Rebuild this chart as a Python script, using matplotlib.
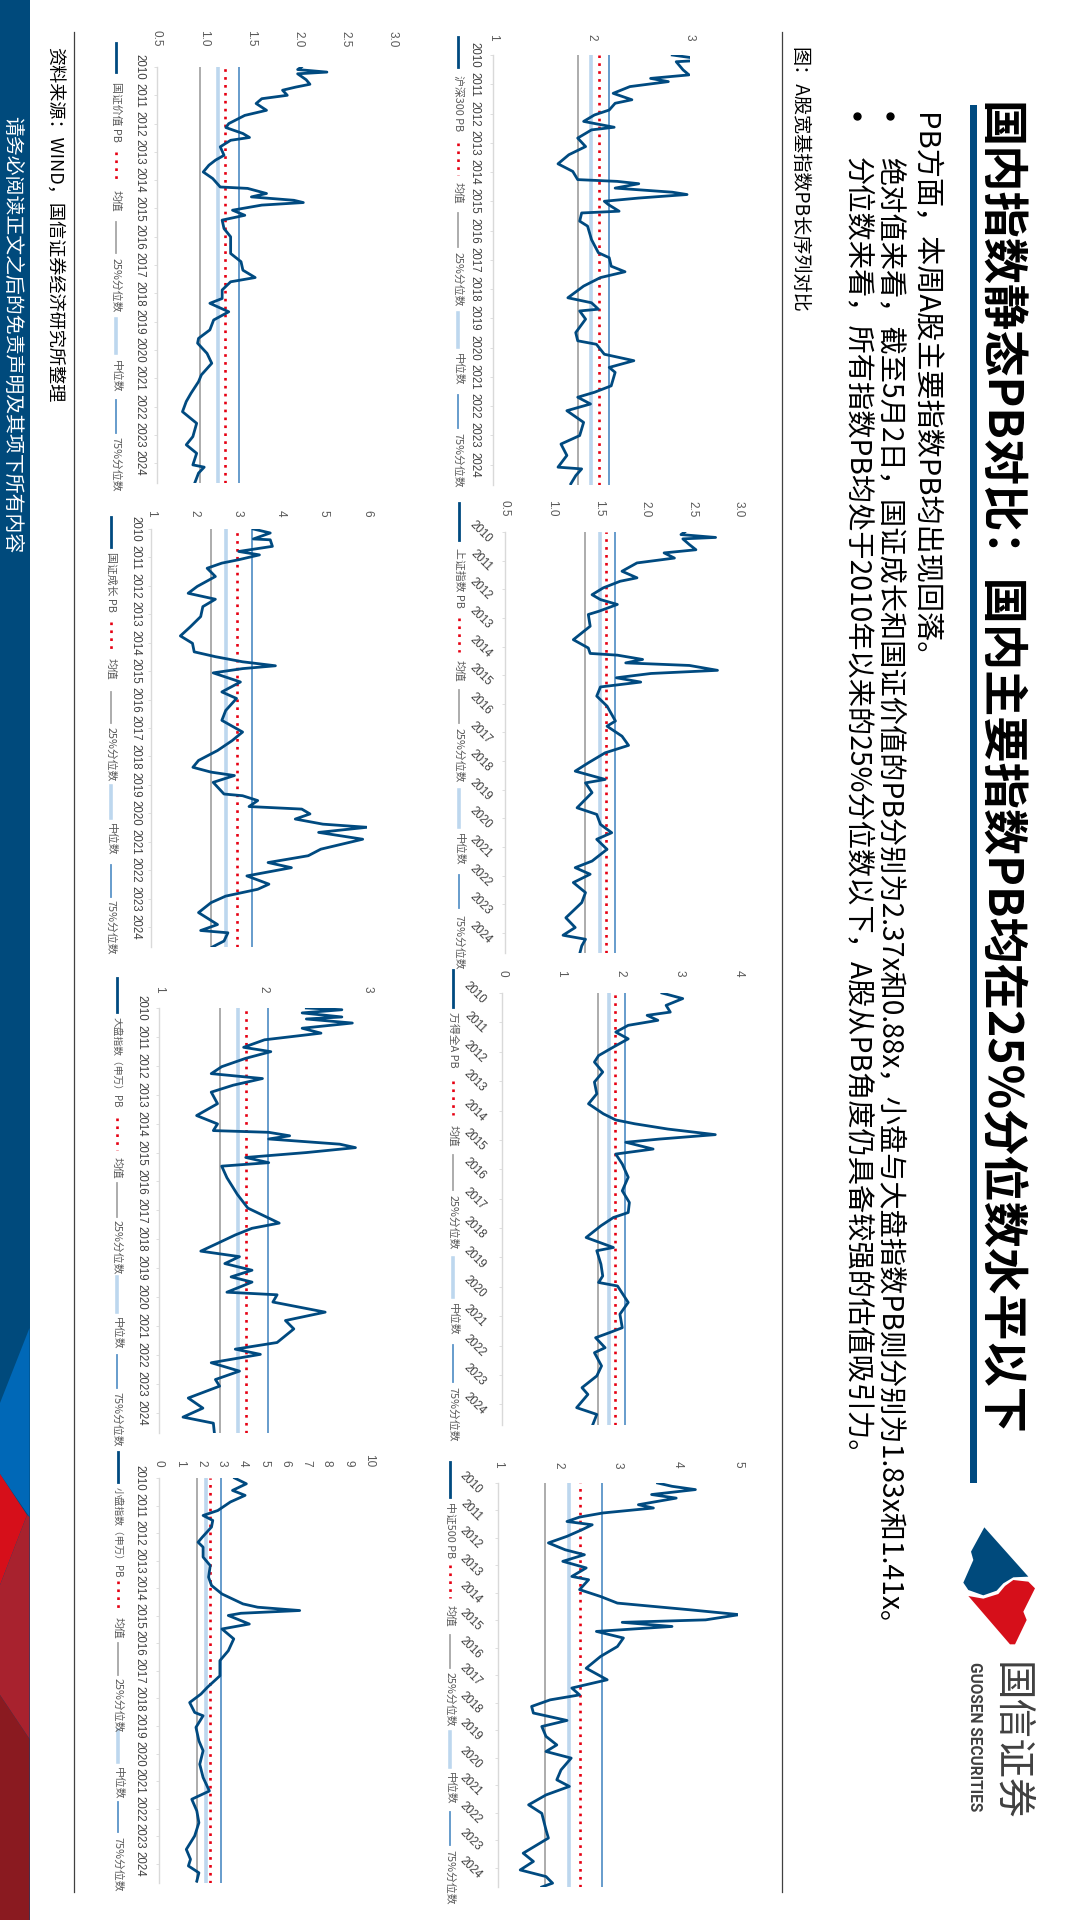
import numpy as np
import matplotlib
matplotlib.use('Agg')
import matplotlib.pyplot as plt
from matplotlib.patches import Polygon, Rectangle

plt.rcParams['font.family'] = ['Noto Sans CJK SC', 'DejaVu Sans']

# PB series: years since 2010 and PB value
hs300_t = [0, .17, .23, .51, .68, .8, .91, 1.08, 1.31, 1.53, 1.65, 1.88, 2.05, 2.27, 2.47, 2.56, 2.84, 3.13, 3.41, 3.72, 3.98, 4.26, 4.32, 4.4, 4.55, 4.69, 4.77, 4.89, 5.0, 5.11, 5.34, 5.4, 5.68, 5.85, 6.31, 6.76, 6.93, 7.22, 7.41, 7.61, 7.9, 8.3, 8.47, 8.69, 8.75, 9.03, 9.49, 9.77, 9.89, 10.23, 10.45, 10.68, 10.85, 11.31, 11.53, 11.7, 11.93, 12.16, 12.56, 13.01, 13.3, 13.69, 14.09, 14.15, 14.38, 14.66]
hs300_v = [2.82, 3.18, 2.86, 2.93, 2.99, 2.6, 2.78, 2.39, 2.22, 2.41, 2.24, 2.18, 2.03, 1.92, 2.23, 2.0, 1.86, 1.94, 1.77, 1.66, 1.81, 1.86, 2.26, 2.48, 2.24, 2.82, 2.97, 2.48, 2.13, 2.17, 2.28, 1.9, 1.88, 1.96, 2.0, 2.07, 2.18, 2.2, 2.34, 2.09, 1.92, 1.76, 2.0, 2.07, 1.88, 1.94, 1.84, 1.86, 2.05, 2.13, 2.43, 2.18, 2.24, 2.2, 2.03, 1.86, 1.99, 1.75, 1.92, 1.88, 1.69, 1.75, 1.66, 1.9, 1.84, 1.79]
value_t = [0, .09, .18, .24, .45, .61, .71, .82, 1.0, 1.12, 1.29, 1.53, 1.71, 2.0, 2.14, 2.35, 2.49, 2.59, 2.82, 3.12, 3.29, 3.47, 3.71, 3.94, 4.24, 4.29, 4.47, 4.59, 4.71, 4.79, 4.88, 5.06, 5.24, 5.41, 5.71, 6.0, 6.24, 6.59, 6.88, 7.18, 7.44, 7.59, 7.88, 8.18, 8.35, 8.65, 8.94, 9.29, 9.59, 9.76, 10.12, 10.47, 10.88, 11.12, 11.53, 11.82, 12.18, 12.59, 13.06, 13.35, 13.65, 14.06, 14.14, 14.35, 14.7]
value_v = [2.03, 1.99, 2.3, 1.99, 2.08, 2.12, 1.97, 1.83, 1.88, 1.61, 1.55, 1.66, 1.43, 1.26, 1.23, 1.41, 1.48, 1.28, 1.17, 1.21, 1.12, 1.05, .99, 1.09, 1.17, 1.46, 1.66, 1.5, 1.95, 2.05, 1.61, 1.3, 1.43, 1.19, 1.21, 1.28, 1.28, 1.28, 1.39, 1.41, 1.54, 1.28, 1.19, 1.19, 1.06, 1.26, 1.1, 1.06, .94, .93, 1.03, 1.08, .97, .94, .86, .81, .77, .92, .88, .81, .92, .88, 1.0, .94, .9]
sse_t = [0, .09, .19, .24, .44, .62, .73, .91, 1.08, 1.37, 1.6, 1.72, 1.95, 2.19, 2.36, 2.53, 2.77, 2.88, 3.29, 3.76, 4.05, 4.24, 4.3, 4.45, 4.57, 4.66, 4.83, 4.94, 5.09, 5.24, 5.41, 5.73, 6.08, 6.6, 6.78, 7.13, 7.45, 7.71, 8.06, 8.35, 8.64, 8.76, 9.1, 9.63, 9.86, 10.21, 10.5, 10.73, 11.08, 11.49, 11.72, 11.95, 12.24, 12.59, 12.94, 13.47, 13.81, 14.08, 14.22, 14.45, 14.7]
sse_v = [2.42, 2.38, 2.75, 2.4, 2.47, 2.54, 2.2, 2.31, 1.91, 1.75, 1.91, 1.73, 1.55, 1.43, 1.52, 1.7, 1.5, 1.39, 1.41, 1.23, 1.39, 1.41, 1.7, 1.97, 1.79, 2.47, 2.77, 2.06, 1.69, 1.95, 1.52, 1.48, 1.59, 1.68, 1.59, 1.75, 1.82, 1.57, 1.39, 1.25, 1.57, 1.36, 1.43, 1.27, 1.48, 1.52, 1.64, 1.48, 1.59, 1.43, 1.25, 1.41, 1.23, 1.36, 1.32, 1.15, 1.25, 1.12, 1.36, 1.32, 1.3]
growth_t = [0, .14, .35, .38, .61, .79, .91, 1.08, 1.2, 1.38, 1.67, 2.02, 2.26, 2.47, 2.73, 3.08, 3.44, 3.76, 4.02, 4.32, 4.49, 4.67, 4.81, 4.91, 5.06, 5.38, 5.73, 5.96, 6.38, 6.73, 7.14, 7.44, 7.79, 8.14, 8.38, 8.55, 8.67, 8.91, 9.32, 9.38, 9.55, 9.76, 9.85, 10.02, 10.2, 10.38, 10.49, 10.67, 10.91, 11.26, 11.49, 11.73, 11.91, 12.2, 12.49, 12.67, 12.91, 13.14, 13.49, 13.91, 14.12, 14.2, 14.49, 14.7]
growth_v = [3.37, 3.76, 3.37, 3.76, 3.81, 3.03, 3.51, 3.03, 2.64, 2.3, 2.49, 2.07, 1.86, 2.49, 2.2, 2.15, 1.91, 1.68, 1.96, 2.0, 2.49, 3.12, 3.88, 3.12, 2.44, 3.07, 2.64, 2.98, 2.73, 2.64, 3.12, 2.88, 2.54, 2.1, 1.97, 2.39, 2.93, 2.44, 2.69, 3.12, 3.47, 3.27, 4.49, 4.68, 4.34, 4.98, 6.0, 4.88, 5.9, 4.93, 4.64, 3.71, 4.25, 3.22, 3.73, 3.47, 2.73, 2.39, 2.1, 2.54, 2.15, 2.78, 2.69, 2.42]
wind_t = [0, .19, .42, .65, .76, .93, 1.1, 1.33, 1.56, 1.84, 2.13, 2.35, 2.69, 3.03, 3.43, 3.77, 4.11, 4.32, 4.45, 4.63, 4.82, 4.97, 5.08, 5.31, 5.48, 5.82, 6.27, 6.73, 7.13, 7.47, 7.64, 7.92, 8.32, 8.66, 8.77, 9.23, 9.63, 9.85, 9.97, 10.53, 10.93, 11.39, 11.56, 11.73, 12.07, 12.24, 12.69, 13.03, 13.43, 13.66, 14.11, 14.34, 14.7]
wind_v = [2.7, 3.05, 2.77, 2.84, 2.45, 2.63, 2.13, 1.92, 2.13, 1.88, 1.63, 1.56, 1.7, 1.56, 1.6, 1.46, 1.71, 1.92, 2.24, 2.8, 3.6, 2.66, 2.09, 2.55, 1.92, 2.03, 2.13, 2.03, 2.15, 2.13, 1.88, 1.67, 1.42, 1.88, 1.6, 1.67, 1.7, 1.63, 1.95, 2.13, 1.99, 2.03, 1.81, 1.58, 1.74, 1.56, 1.68, 1.6, 1.35, 1.45, 1.26, 1.6, 1.53]
large_t = [0, .06, .17, .31, .38, .52, .7, .87, 1.1, 1.36, 1.51, 1.74, 2.03, 2.27, 2.44, 2.67, 2.91, 3.31, 3.72, 4.01, 4.24, 4.3, 4.42, 4.53, 4.71, 4.83, 5.0, 5.17, 5.35, 5.47, 5.87, 6.45, 6.92, 7.44, 7.62, 7.85, 8.14, 8.41, 8.6, 8.84, 9.07, 9.3, 9.48, 9.83, 9.92, 10.17, 10.52, 10.81, 11.1, 11.57, 11.8, 11.98, 12.27, 12.56, 12.85, 13.08, 13.49, 13.84, 14.15, 14.36, 14.7]
large_v = [2.41, 2.75, 2.37, 2.75, 2.41, 2.85, 2.37, 2.55, 2.01, 1.81, 2.07, 1.83, 1.6, 1.5, 1.99, 1.71, 1.5, 1.56, 1.36, 1.56, 1.52, 2.05, 2.25, 2.05, 2.73, 2.88, 2.41, 1.83, 2.05, 1.6, 1.65, 1.75, 1.85, 2.15, 1.89, 1.73, 1.56, 1.4, 1.77, 1.63, 1.89, 1.69, 1.89, 1.65, 2.13, 2.09, 2.59, 2.21, 2.29, 2.13, 1.73, 1.97, 1.5, 1.77, 1.54, 1.58, 1.28, 1.42, 1.23, 1.52, 1.53]
csi500_t = [0, .12, .24, .42, .55, .79, .91, 1.09, 1.24, 1.4, 1.52, 1.7, 1.94, 2.18, 2.43, 2.61, 2.85, 3.09, 3.4, 3.52, 3.88, 4.13, 4.37, 4.61, 4.79, 4.98, 5.07, 5.22, 5.4, 5.64, 5.95, 6.31, 6.74, 7.16, 7.46, 7.71, 7.89, 8.13, 8.37, 8.64, 8.86, 9.22, 9.53, 9.77, 10.01, 10.44, 10.8, 11.04, 11.35, 11.71, 12.02, 12.62, 12.92, 13.47, 13.77, 14.08, 14.32, 14.56, 14.7]
csi500_v = [3.66, 3.9, 4.29, 3.56, 3.97, 3.34, 3.59, 2.75, 2.36, 2.15, 2.57, 2.4, 2.15, 1.84, 2.12, 2.44, 2.08, 2.47, 2.23, 2.51, 2.36, 2.71, 2.99, 4.18, 5.02, 4.46, 3.07, 3.9, 2.64, 3.09, 2.99, 2.71, 2.47, 2.82, 2.23, 2.36, 1.87, 1.56, 1.59, 2.15, 1.73, 1.8, 1.98, 1.8, 2.22, 2.05, 1.98, 2.19, 1.8, 1.51, 1.73, 1.8, 1.84, 1.42, 1.59, 1.37, 1.8, 1.91, 1.73]
small_t = [0, .21, .45, .63, .87, 1.18, 1.36, 1.54, 1.78, 2.15, 2.33, 2.51, 2.87, 3.18, 3.6, 3.9, 4.21, 4.57, 4.69, 4.81, 4.91, 4.99, 5.3, 5.48, 5.84, 6.27, 6.63, 7.18, 7.6, 7.84, 8.15, 8.51, 8.63, 9.05, 9.54, 9.9, 10.39, 10.87, 11.36, 11.66, 12.08, 12.51, 12.99, 13.48, 13.84, 14.08, 14.33, 14.63]
small_v = [3.6, 4.16, 3.5, 4.1, 3.4, 2.8, 2.1, 2.56, 2.5, 2.06, 1.86, 2.1, 2.1, 2.44, 2.36, 2.5, 3.0, 4.0, 4.7, 6.7, 3.9, 3.3, 4.3, 3.0, 3.56, 3.3, 2.9, 2.9, 2.3, 2.0, 1.46, 1.7, 2.1, 1.76, 1.9, 2.1, 1.94, 2.1, 2.4, 1.56, 1.8, 1.9, 1.7, 1.3, 1.5, 1.4, 1.9, 1.8]

# 25% quantile, median, mean, 75% quantile
hs300_stats = [1.865, 1.99, 2.08, 2.18]
value_stats = [.96, 1.15, 1.22, 1.37]
sse_stats = [1.35, 1.51, 1.58, 1.68]
growth_stats = [2.4, 2.74, 3.0, 3.33]
wind_stats = [1.62, 1.81, 1.91, 2.08]
large_stats = [1.58, 1.76, 1.83, 2.04]
csi500_stats = [1.79, 2.19, 2.36, 2.73]
small_stats = [1.8, 2.24, 2.44, 2.94]

years = list(range(2010, 2025))
year_end = 2024.7

NAVY = '#004a80'
GREY = '#595959'
CJK = ['Noto Sans CJK SC', 'DejaVu Sans']
LEG = 7.8

# name, t, v, stats, value ticks, fmt, axes box (x0, x1, y0, y1) in px, year rotation,
# value label pad, year label pad, legend starts
panels = [
    ('沪深300 PB', hs300_t, hs300_v, hs300_stats, [1, 2, 3], '%d', (493, 690, 55, 485), 0, 14, 10,
     (37, 67, 75, 143, 175, 182, 213, 247, 252, 313, 347, 353, 395, 428, 433)),
    ('国证价值 PB', value_t, value_v, value_stats, [.5, 1, 1.5, 2, 2.5, 3], '%.1f', (157, 393, 67, 483), 0, 20, 9,
     (43, 72, 82, 152, 183, 190, 222, 253, 258, 319, 353, 360, 400, 433, 437)),
    ('上证指数 PB', sse_t, sse_v, sse_stats, [.5, 1, 1.5, 2, 2.5, 3], '%.1f', (505, 739, 532, 953), -45, 15, 8,
     (503, 540, 548, 618, 652, 660, 690, 723, 728, 790, 827, 833, 875, 908, 915)),
    ('国证成长 PB', growth_t, growth_v, growth_stats, [1, 2, 3, 4, 5, 6], '%d', (151, 367, 529, 947), 0, 12, 7,
     (517, 547, 552, 622, 650, 658, 692, 723, 727, 786, 818, 823, 865, 897, 900)),
    ('万得全A PB', wind_t, wind_v, wind_stats, [0, 1, 2, 3, 4], '%d', (502, 739, 993, 1425), -45, 16, 11,
     (970, 1007, 1012, 1081, 1115, 1125, 1155, 1190, 1195, 1258, 1297, 1303, 1345, 1382, 1387)),
    ('大盘指数（申万）PB', large_t, large_v, large_stats, [1, 2, 3], '%d', (159, 368, 1008, 1433), 0, 15, 9,
     (978, 1012, 1017, 1118, 1150, 1157, 1183, 1217, 1220, 1277, 1312, 1317, 1355, 1388, 1392)),
    ('中证500 PB', csi500_t, csi500_v, csi500_stats, [1, 2, 3, 4, 5], '%d', (498, 738, 1483, 1887), -45, 15, 11,
     (1462, 1497, 1502, 1565, 1598, 1605, 1635, 1668, 1672, 1732, 1767, 1772, 1812, 1845, 1850)),
    ('小盘指数（申万）PB', small_t, small_v, small_stats, [0, 1, 2, 3, 4, 5, 6, 7, 8, 9, 10], '%d', (159, 369, 1478, 1883), 0, 11, 11,
     (1452, 1482, 1487, 1581, 1610, 1617, 1643, 1675, 1678, 1730, 1762, 1767, 1802, 1832, 1837)),
]
legend_x = [458, 116, 459, 111, 453, 117, 450, 118]

fig = plt.figure(figsize=(10.8, 19.2), dpi=100, facecolor='white')

# page background drawn in pixel coordinates
bg = fig.add_axes([0, 0, 1, 1])
bg.set_xlim(0, 1080)
bg.set_ylim(1920, 0)
bg.axis('off')

# left colour band
bg.add_patch(Rectangle((0, 0), 29.5, 1920, color='#004a7c', lw=0))
bg.add_patch(Polygon([(29.5, 1328), (0, 1403), (0, 1474), (29.5, 1517)], color='#0068b7', lw=0))
bg.add_patch(Polygon([(0, 1474), (27, 1515), (0, 1585)], color='#d60f1a', lw=0))
bg.add_patch(Polygon([(29.5, 1517), (27, 1515), (0, 1585), (0, 1695), (29.5, 1739)], color='#a8222e', lw=0))
bg.add_patch(Polygon([(0, 1695), (29.5, 1739), (29.5, 1920), (0, 1920)], color='#8a1a20', lw=0))
bg.text(12, 116, '请务必阅读正文之后的免责声明及其项下所有内容', color='white', fontsize=14.3,
        rotation=-90, ha='center', va='top', family=CJK)

# header
bg.text(998, 102, '国内指数静态PB对比：国内主要指数PB均在25%分位数水平以下', fontsize=33.3, weight='bold',
        color='black', rotation=-90, ha='center', va='top', family=CJK)
bg.add_patch(Rectangle((970, 105), 6.5, 1378, color=NAVY, lw=0))
bg.text(924, 113, 'PB方面，本周A股主要指数PB均出现回落。', fontsize=21, rotation=-90, ha='center', va='top', family=CJK)
bg.text(890, 157, '绝对值来看，截至5月2日，国证成长和国证价值的PB分别为2.37x和0.88x，小盘与大盘指数PB则分别为1.83x和1.41x。',
        fontsize=20.3, rotation=-90, ha='center', va='top', family=CJK)
bg.text(857, 157, '分位数来看，所有指数PB均处于2010年以来的25%分位数以下，A股从PB角度仍具备较强的估值吸引力。',
        fontsize=20.3, rotation=-90, ha='center', va='top', family=CJK)
bg.plot([890, 857], [116, 116], 'o', color='black', ms=5)
bg.text(799, 47, '图：A股宽基指数PB长序列对比', fontsize=13.8, rotation=-90, ha='center', va='top', family=CJK)
bg.plot([782, 782], [32, 1892], color='#404040', lw=0.9)
bg.plot([74, 74], [32, 1892], color='#404040', lw=0.9)
bg.text(54, 47, '资料来源：WIND，国信证券经济研究所整理', fontsize=13.1, rotation=-90, ha='center', va='top', family=CJK)

# logo
zx = lambda p: [(840 + a / 3, 1400 + b / 3) for a, b in p]
bg.add_patch(Polygon(zx([(433, 382), (565, 530), (520, 532), (490, 550), (470, 572), (430, 586), (385, 570), (370, 548),
                         (400, 480), (393, 455)]), color='#004a7c', lw=0))
bg.add_patch(Polygon(zx([(385, 588), (430, 596), (475, 582), (495, 558), (520, 540), (565, 545), (585, 565), (550, 635),
                         (560, 660), (525, 733), (510, 733)]), color='#d60f1a', lw=0))
bg.text(1010, 1662, '国信证券', fontsize=28.5, color='#404040', rotation=-90, ha='center', va='top', family=CJK)
bg.text(975, 1662, 'GUOSEN SECURITIES', fontsize=11.2, weight='bold', color='#404040', rotation=-90,
        ha='center', va='top', family='Roboto')

for (name, t, v, stats, vticks, fmt, box, yrot, vpad, ypad, leg), lx in zip(panels, legend_x):
    x0, x1, y0, y1 = box
    ax = fig.add_axes([x0 / 1080, 1 - y1 / 1920, (x1 - x0) / 1080, (y1 - y0) / 1920])
    ax.patch.set_alpha(0)
    ax.axvline(stats[0], color='#a6a6a6', lw=1.3)
    ax.axvline(stats[1], color='#bdd7ee', lw=2.6)
    ax.axvline(stats[2], color='#e60012', lw=1.9, ls=(0, (1, 2)))
    ax.axvline(stats[3], color='#5b94c8', lw=1.3)
    ax.plot(v, 2010 + np.array(t), color=NAVY, lw=2.0, solid_joinstyle='round')
    ax.set_xlim(vticks[0], vticks[-1])
    ax.set_ylim(year_end, 2010)
    for s in ['top', 'right', 'bottom']:
        ax.spines[s].set_visible(False)
    ax.spines['left'].set_color('#d9d9d9')
    ax.spines['left'].set_linewidth(1)
    ax.xaxis.tick_top()
    ax.set_xticks(vticks)
    ax.set_xticklabels([fmt % x for x in vticks], rotation=-90, color=GREY, fontsize=8.5, family='Liberation Sans')
    ax.tick_params(axis='x', length=0, pad=vpad * 0.72)
    ax.set_yticks(years)
    ax.set_yticklabels([str(y) for y in years], rotation=yrot if yrot else -90, color='#404040', fontsize=8.3,
                       family='Liberation Sans', va='center')
    ax.tick_params(axis='y', length=2, width=0.6, color='#d9d9d9', pad=ypad * 0.72)

    # legend, drawn by hand as the reference has it
    bg.plot([lx, lx], [leg[0], leg[1]], color=NAVY, lw=2.0)
    # the two long names have to stay clear of the dotted sample
    bg.text(lx, leg[2], name, fontsize=7.0 if len(name) > 8 else LEG, color=GREY, rotation=-90, ha='center', va='top', family=CJK)
    bg.plot([lx, lx], [leg[3], leg[4]], color='#e60012', lw=1.9, ls=(0, (1, 2)))
    bg.text(lx, leg[5], '均值', fontsize=LEG, color=GREY, rotation=-90, ha='center', va='top', family=CJK)
    bg.plot([lx, lx], [leg[6], leg[7]], color='#a6a6a6', lw=1.3)
    bg.text(lx, leg[8], '25%分位数', fontsize=LEG, color=GREY, rotation=-90, ha='center', va='top', family=CJK)
    bg.plot([lx, lx], [leg[9], leg[10]], color='#bdd7ee', lw=2.6)
    bg.text(lx, leg[11], '中位数', fontsize=LEG, color=GREY, rotation=-90, ha='center', va='top', family=CJK)
    bg.plot([lx, lx], [leg[12], leg[13]], color='#5b94c8', lw=1.3)
    bg.text(lx, leg[14], '75%分位数', fontsize=LEG, color=GREY, rotation=-90, ha='center', va='top', family=CJK)

fig.savefig('out.png', dpi=100)
